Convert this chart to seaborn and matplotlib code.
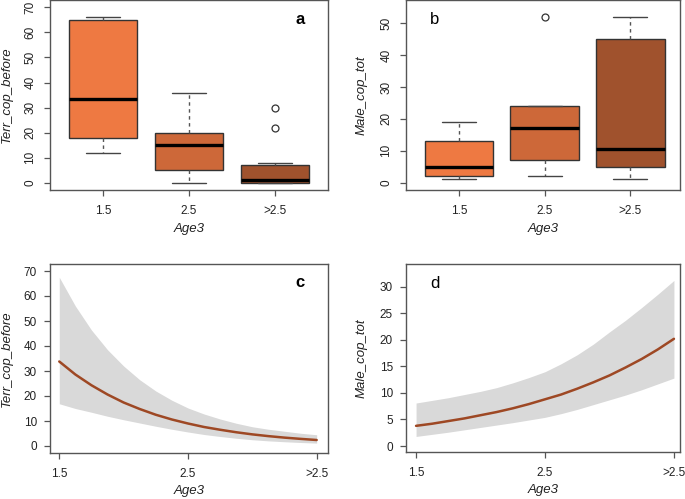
import numpy as np
import pandas as pd
import seaborn as sns
import matplotlib.pyplot as plt

# --- data ---
age_levels = ['1.5', '2.5', '>2.5']
box_colors = ['#EE7942', '#CD6839', '#A0522D']  # sienna2, sienna3, sienna

# panel a: Terr_cop_before per age class (values consistent with the boxes)
terr_15 = [12, 18, 33.5, 65, 66]
terr_25 = [0, 5, 15, 20, 36]
terr_gt = [0, 0, 0, 0, 0, 1, 1, 2, 5, 7, 8, 22, 30]

# panel b: Male_cop_tot per age class
male_15 = [1, 2, 5, 13, 19]
male_25 = [2, 5, 7, 12, 17, 20, 24, 24, 52]
male_gt = [1, 5, 10.5, 45, 52]

# panels c/d: fitted effect and confidence band
fit_x = [1.5, 1.625, 1.75, 1.875, 2.0, 2.125, 2.25, 2.375, 2.5,
         2.625, 2.75, 2.875, 3.0, 3.125, 3.25, 3.375, 3.5]
terr_fit = [33.8, 28.6, 24.3, 20.6, 17.4, 14.8, 12.5, 10.6, 9.0,
            7.6, 6.5, 5.5, 4.65, 3.95, 3.35, 2.85, 2.4]
terr_upper = [67.5, 56.0, 46.4, 38.5, 32.0, 26.5, 22.0, 18.3, 15.2,
              12.8, 10.8, 9.1, 7.7, 6.7, 5.9, 5.1, 4.5]
terr_lower = [16.9, 15.0, 13.5, 11.9, 10.5, 9.2, 7.9, 6.7, 5.6,
              4.6, 3.8, 3.1, 2.5, 2.05, 1.7, 1.4, 1.15]
male_fit = [3.8, 4.2, 4.7, 5.2, 5.8, 6.4, 7.1, 7.9, 8.8,
            9.7, 10.8, 12.0, 13.3, 14.8, 16.4, 18.2, 20.2]
male_upper = [8.1, 8.6, 9.1, 9.7, 10.3, 11.0, 11.9, 12.9, 14.0,
              15.5, 17.2, 19.2, 21.5, 23.7, 26.1, 28.6, 31.2]
male_lower = [1.8, 2.2, 2.6, 3.05, 3.5, 3.95, 4.4, 4.9, 5.4,
              6.1, 6.9, 7.8, 8.7, 9.6, 10.6, 11.7, 12.8]

sns.set_style('ticks')
plt.rcParams['font.family'] = ['Liberation Sans', 'DejaVu Sans']

FRAME = '#555555'
TXT = '#222222'
LINE_COL = '#9E4824'
BAND_COL = '#D9D9D9'

fig = plt.figure(figsize=(6.85, 4.99), dpi=100)


def px_rect(l, t, r, b):
    return [l / 685, 1 - b / 499, (r - l) / 685, (b - t) / 499]


def style_axes(ax, rotate_y):
    for s in ax.spines.values():
        s.set_visible(True)
        s.set_color(FRAME)
        s.set_linewidth(1.0)
    ax.tick_params(axis='both', colors=FRAME, length=4.5, width=0.9,
                   labelsize=8.5, labelcolor=TXT)
    ax.tick_params(axis='x', pad=6.5)
    if rotate_y:
        ax.tick_params(axis='y', labelrotation=90, pad=5.2)
        for lab in ax.get_yticklabels():
            lab.set_va('center')
    else:
        ax.tick_params(axis='y', pad=5.0)
    ax.grid(False)


def boxpanel(ax, values, ylabel, yticks, ylim, xlim):
    groups = []
    for lev, vals in zip(age_levels, values):
        groups += [lev] * len(vals)
    df = pd.DataFrame({'Age3': groups, ylabel: np.concatenate(values)})
    sns.boxplot(data=df, x='Age3', y=ylabel, hue='Age3', order=age_levels,
                hue_order=age_levels, palette=box_colors, legend=False,
                saturation=1, width=0.8, linecolor='#333333', linewidth=1.0, ax=ax,
                whiskerprops={'linestyle': (0, (2.5, 2.5)), 'color': '#555555'},
                capprops={'color': '#444444'},
                medianprops={'color': 'black', 'linewidth': 2.4},
                flierprops={'marker': 'o', 'markerfacecolor': 'none',
                            'markeredgecolor': '#333333', 'markersize': 5,
                            'markeredgewidth': 0.9})
    ax.set_xlim(*xlim)
    ax.set_ylim(*ylim)
    ax.set_yticks(yticks)
    style_axes(ax, rotate_y=True)


def effectpanel(ax, fit, upper, lower, yticks, ylim, xlim):
    ax.fill_between(fit_x, lower, upper, color=BAND_COL, linewidth=0, zorder=1)
    sns.lineplot(x=fit_x, y=fit, ax=ax, color=LINE_COL, linewidth=1.8, zorder=2)
    ax.set_xlim(*xlim)
    ax.set_ylim(*ylim)
    ax.set_yticks(yticks)
    ax.set_xticks([1.5, 2.5, 3.5])
    ax.set_xticklabels(age_levels)
    style_axes(ax, rotate_y=False)


def labels(ax, ylabel, ylab_x, xlab_y, tag, tag_x, tag_y, bold):
    ax.set_xlabel('Age3', fontsize=9.5, style='italic', color=TXT)
    ax.set_ylabel(ylabel, fontsize=9.5, style='italic', color=TXT)
    ax.xaxis.label.set_va('center')
    ax.yaxis.label.set_va('center')
    ax.xaxis.set_label_coords(0.5, xlab_y)
    ax.yaxis.set_label_coords(ylab_x, 0.5)
    ax.text(tag_x, tag_y, tag, transform=ax.transAxes, ha='center', va='center',
            fontsize=12, fontweight='bold' if bold else 'normal', color='black')


ax_a = fig.add_axes(px_rect(50, 0, 328, 190))
boxpanel(ax_a, [terr_15, terr_25, terr_gt], 'Terr_cop_before',
         range(0, 71, 10), (-2.8, 72.9), (-0.616, 2.616))
labels(ax_a, 'Terr_cop_before', -0.155, -0.205, 'a', 0.90, 0.895, True)

ax_b = fig.add_axes(px_rect(406, 0, 680, 190))
boxpanel(ax_b, [male_15, male_25, male_gt], 'Male_cop_tot',
         range(0, 51, 10), (-2.3, 57.3), (-0.62, 2.58))
labels(ax_b, 'Male_cop_tot', -0.161, -0.205, 'b', 0.106, 0.895, False)

ax_c = fig.add_axes(px_rect(50, 264, 328, 453))
effectpanel(ax_c, terr_fit, terr_upper, terr_lower,
            range(0, 71, 10), (-2.8, 72.8), (1.428, 3.588))
labels(ax_c, 'Terr_cop_before', -0.155, -0.20, 'c', 0.90, 0.90, True)

ax_d = fig.add_axes(px_rect(406, 264, 680, 452))
effectpanel(ax_d, male_fit, male_upper, male_lower,
            range(0, 31, 5), (-1.13, 34.3), (1.422, 3.547))
labels(ax_d, 'Male_cop_tot', -0.161, -0.20, 'd', 0.106, 0.894, False)

fig.savefig('out.png', dpi=100)
